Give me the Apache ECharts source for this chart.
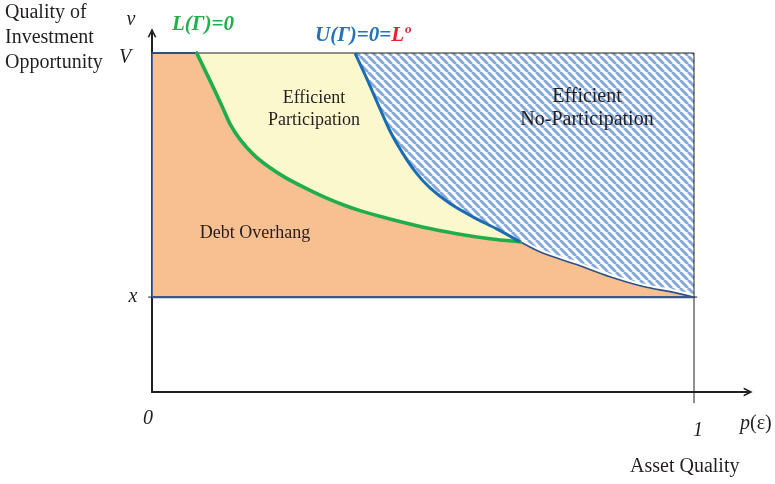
<!DOCTYPE html>
<html><head><meta charset="utf-8">
<script src="https://cdn.jsdelivr.net/npm/echarts@6/dist/echarts.min.js"></script>
<style>html,body{margin:0;padding:0;background:#fff}#c{width:775px;height:484px}</style>
</head><body><div id="c"></div>
<script>
// ---------------- data ----------------
// L(Γ)=0 boundary (green)
const greenP = [0.0825,0.0978,0.1162,0.1315,0.1439,0.1624,0.1869,0.2146,0.2454,0.2823,0.3192,0.3561,0.3838,0.4391,0.5006,0.5622,0.6236,0.679];
const greenV = [1.000,0.949,0.888,0.835,0.791,0.745,0.701,0.665,0.633,0.602,0.574,0.550,0.535,0.510,0.486,0.467,0.452,0.443];
// U(Γ)=0=L° boundary (blue)
const blueP = [0.3745,0.3961,0.4175,0.4391,0.4607,0.4852,0.5129,0.5498,0.5928,0.6360,0.679];
const blueV = [1.000,0.925,0.847,0.770,0.709,0.651,0.602,0.556,0.516,0.481,0.443];
// lower boundary of the no-participation region
const lowerP = [0.679,0.7220,0.7836,0.8450,0.9065,0.9557,1.0];
const lowerV = [0.443,0.409,0.376,0.340,0.311,0.296,0.280];
// levels
const vLow = 0.28;   // x
const vHigh = 1.0;   // V
const pLow = 0, pHigh = 1;
// tick labels
const xTickValues = [0, 1];
const xTickLabels = ['0', '1'];
const yTickValues = [0.28, 1];
const yTickLabels = ['x', 'V'];
// region labels
const regionLabels = ['Efficient\nParticipation', 'Efficient\nNo-Participation', 'Debt Overhang'];

// ---------------- build ----------------
const zip = (a, b) => a.map((v, i) => [v, b[i]]);
const green = zip(greenP, greenV);
const blue = zip(blueP, blueV);
const lower = zip(lowerP, lowerV);
const blueRev = blue.slice().reverse();

const SERIF = "'Liberation Serif','DejaVu Serif',serif";
const INK = '#231f20';

// hatch pattern
const T = 8;
const pc = document.createElement('canvas');
pc.width = T; pc.height = T;
const g = pc.getContext('2d');
g.fillStyle = '#ffffff'; g.fillRect(0, 0, T, T);
g.strokeStyle = '#86a9dc'; g.lineWidth = 3;
for (const k of [-T, 0, T]) { g.beginPath(); g.moveTo(k, 0); g.lineTo(k + T, T); g.stroke(); }

// smooth (Catmull-Rom) path segment through pixel points
function smoothSeg(px) {
  let d = '';
  for (let i = 0; i < px.length - 1; i++) {
    const p0 = px[i - 1] || px[i], p1 = px[i], p2 = px[i + 1], p3 = px[i + 2] || px[i + 1];
    const c1 = [p1[0] + (p2[0] - p0[0]) / 6, p1[1] + (p2[1] - p0[1]) / 6];
    const c2 = [p2[0] - (p3[0] - p1[0]) / 6, p2[1] - (p3[1] - p1[1]) / 6];
    d += ' C' + c1[0] + ',' + c1[1] + ' ' + c2[0] + ',' + c2[1] + ' ' + p2[0] + ',' + p2[1];
  }
  return d;
}
function buildPath(api, parts, close) {
  let d = '';
  parts.forEach((part, idx) => {
    const px = part.pts.map(p => api.coord(p));
    if (idx === 0) d += 'M' + px[0][0] + ',' + px[0][1];
    else d += ' L' + px[0][0] + ',' + px[0][1];
    if (part.smooth) d += smoothSeg(px);
    else for (let i = 1; i < px.length; i++) d += ' L' + px[i][0] + ',' + px[i][1];
  });
  if (close) d += ' Z';
  return d;
}

function pathSeries(parts, close, style, z) {
  const allPts = [].concat(...parts.map(p => p.pts));
  return {
    type: 'custom', coordinateSystem: 'cartesian2d', silent: true, z: z, clip: false,
    data: allPts, encode: { x: 0, y: 1 },
    renderItem: function (params, api) {
      if (params.dataIndex !== 0) return null;
      return { type: 'path', shape: { pathData: buildPath(api, parts, close) }, style: style };
    }
  };
}

function tickSeries(values, labels, axis, offsets, z) {
  return {
    type: 'custom', coordinateSystem: 'cartesian2d', silent: true, z: z, clip: false,
    data: values.map(v => axis === 'x' ? [v, 0] : [0, v]),
    encode: { x: 0, y: 1 },
    renderItem: function (params, api) {
      const i = params.dataIndex;
      const c = api.coord([api.value(0), api.value(1)]);
      return { type: 'text', x: c[0] + offsets[i][0], y: c[1] + offsets[i][1],
        style: { text: labels[i], font: 'italic 20px ' + SERIF, fill: INK,
          align: 'center', verticalAlign: 'middle' } };
    }
  };
}

const S = (pts) => ({ pts: pts, smooth: true });
const L = (pts) => ({ pts: pts, smooth: false });

const arrow = 'path://M0,10 L5,0 L10,10 L8,10 L5,4 L2,10 Z';

const chart = echarts.init(document.getElementById('c'), null, { renderer: 'canvas' });
chart.setOption({
  animation: false,
  backgroundColor: '#ffffff',
  grid: { left: 152, top: 32.66, width: 596.2, height: 359.34 },
  xAxis: {
    type: 'value', min: 0, max: 1.1,
    axisLine: { show: true, onZero: false, symbol: ['none', arrow], symbolSize: [10, 9], lineStyle: { color: INK, width: 2 } },
    axisTick: { show: false }, axisLabel: { show: false }, splitLine: { show: false }
  },
  yAxis: {
    type: 'value', min: 0, max: 1.06,
    axisLine: { show: true, onZero: false, symbol: ['none', arrow], symbolSize: [10, 9], lineStyle: { color: INK, width: 2 } },
    axisTick: { show: false }, axisLabel: { show: false }, splitLine: { show: false }
  },
  series: [
    pathSeries([S(blue), S(lower), L([[pHigh, vHigh]])], true, { fill: { image: pc, repeat: 'repeat' }, stroke: null }, 1),
    pathSeries([S(lower)], false, { stroke: '#ffffff', lineWidth: 6, fill: null }, 2),
    pathSeries([S(green), S(blueRev)], true, { fill: '#fbf8cd', stroke: null }, 3),
    pathSeries([L([[pLow, vHigh]]), S(green), S(lower), L([[pHigh, vLow], [pLow, vLow]])], true,
      { fill: '#f8bf90', stroke: '#2d5288', lineWidth: 1.6, lineJoin: 'round' }, 4),
    pathSeries([L([[pLow, vHigh], [pHigh, vHigh]])], false, { stroke: INK, lineWidth: 1.2, fill: null }, 5),
    pathSeries([L([[pLow, vHigh], [greenP[0], vHigh]])], false, { stroke: '#2d5288', lineWidth: 1.6, fill: null }, 5),
    pathSeries([L([[pHigh, vHigh], [pHigh, -0.033]])], false, { stroke: INK, lineWidth: 1, fill: null }, 5),
    pathSeries([L([[-0.007, vLow], [1.006, vLow]])], false, { stroke: INK, lineWidth: 1, fill: null }, 5),
    pathSeries([L([[pLow, vLow], [pHigh, vLow]])], false, { stroke: '#3a5683', lineWidth: 2.2, fill: null }, 6),
    pathSeries([S(green)], false, { stroke: '#1fae4b', lineWidth: 3.6, fill: null, lineJoin: 'round', lineCap: 'round' }, 7),
    pathSeries([S(blue)], false, { stroke: '#1b6cb5', lineWidth: 3, fill: null, lineJoin: 'round' }, 8),
    tickSeries(yTickValues, yTickLabels, 'y', [[-19, 0], [-27, 5]], 9),
    tickSeries(xTickValues, xTickLabels, 'x', [[-4, 27], [4, 39]], 9)
  ],
  graphic: [
    { type: 'text', z: 100, x: 5, y: 0, silent: true, style: { text: 'Quality of\nInvestment\nOpportunity', font: '20px ' + SERIF, lineHeight: 25, fill: INK, align: 'left', verticalAlign: 'top' } },
    { type: 'text', z: 100, x: 131, y: 20, silent: true, style: { text: 'v', font: 'italic 20px ' + SERIF, fill: INK, align: 'center', verticalAlign: 'middle' } },
    { type: 'text', z: 100, x: 172, y: 25, silent: true, style: { text: 'L(Γ)=0', font: 'bold italic 21px ' + SERIF, fill: '#22b04b', align: 'left', verticalAlign: 'middle' } },
    { type: 'text', z: 100, x: 315, y: 36, silent: true, style: {
        text: '{b|U(Γ)=0=}{r|L}{s|o}', align: 'left', verticalAlign: 'middle',
        rich: {
          b: { font: 'bold italic 21px ' + SERIF, fill: '#2473bb' },
          r: { font: 'bold italic 21px ' + SERIF, fill: '#e5232b' },
          s: { font: 'bold italic 13px ' + SERIF, fill: '#e5232b', padding: [0, 0, 12, 1] }
        } } },
    { type: 'text', z: 100, x: 314, y: 87, silent: true, style: { text: regionLabels[0], font: '18px ' + SERIF, lineHeight: 22, fill: INK, align: 'center', verticalAlign: 'top' } },
    { type: 'text', z: 100, x: 587, y: 85.5, silent: true, style: { text: regionLabels[1], font: '20px ' + SERIF, lineHeight: 23, fill: INK, align: 'center', verticalAlign: 'top' } },
    { type: 'text', z: 100, x: 255, y: 233, silent: true, style: { text: regionLabels[2], font: '18px ' + SERIF, fill: INK, align: 'center', verticalAlign: 'middle' } },
    { type: 'text', z: 100, x: 740, y: 424, silent: true, style: {
        text: '{i|p}{n|(ε)}', align: 'left', verticalAlign: 'middle',
        rich: { i: { font: 'italic 20px ' + SERIF, fill: INK }, n: { font: '20px ' + SERIF, fill: INK } } } },
    { type: 'text', z: 100, x: 630, y: 467, silent: true, style: { text: 'Asset Quality', font: '20px ' + SERIF, fill: INK, align: 'left', verticalAlign: 'middle' } }
  ]
});
</script>
</body></html>
